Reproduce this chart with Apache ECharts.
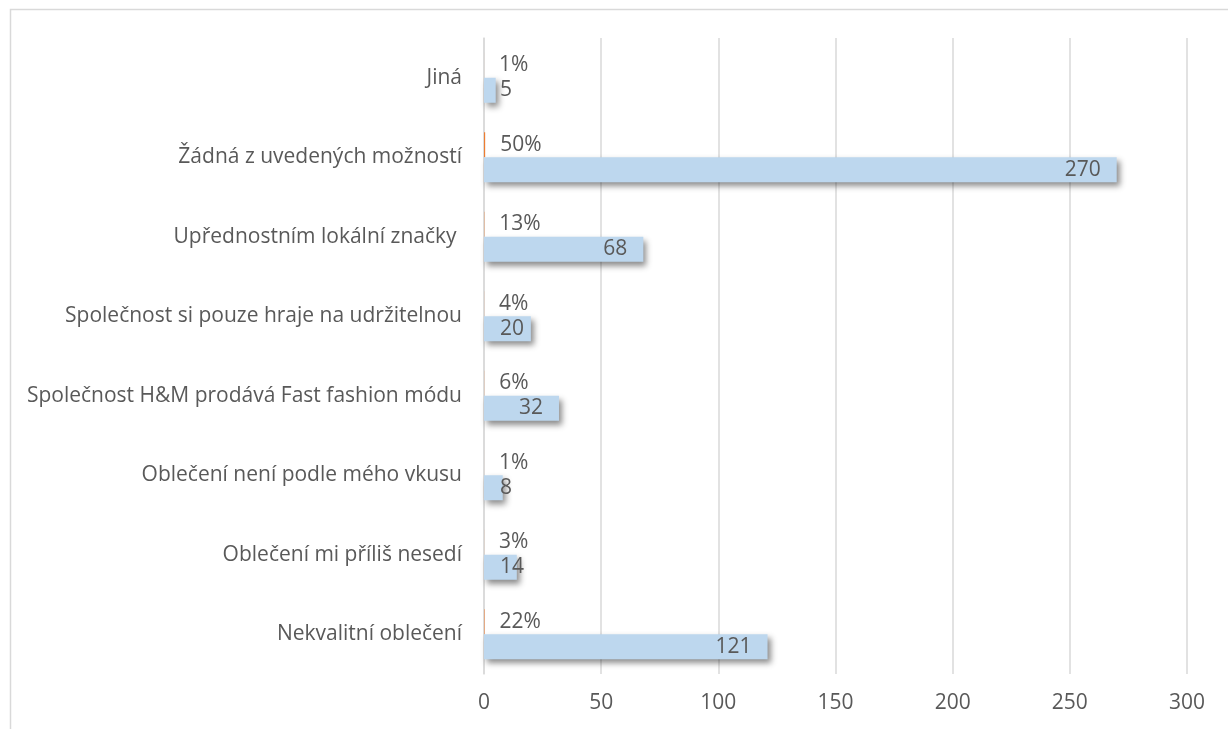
<!DOCTYPE html>
<html>
<head>
<meta charset="utf-8">
<script src="https://cdn.jsdelivr.net/npm/echarts@6/dist/echarts.min.js"></script>
<style>
  html, body { margin: 0; padding: 0; background: #fff; }
  #chart { width: 1228px; height: 729px; }
</style>
</head>
<body>
<div id="chart"></div>
<script>
// kategorie odspodu nahoru
const categories = [
  'Nekvalitní oblečení',
  'Oblečení mi příliš nesedí',
  'Oblečení není podle mého vkusu',
  'Společnost H&M prodává Fast fashion módu',
  'Společnost si pouze hraje na udržitelnou',
  'Upřednostním lokální značky ',
  'Žádná z uvedených možností',
  'Jiná'
]
// počet odpovědí
const counts = [121, 14, 8, 32, 20, 68, 270, 5]
// podíl odpovědí
const shares = [0.22, 0.03, 0.01, 0.06, 0.04, 0.13, 0.5, 0.01]
const xTicks = { min: 0, max: 300, interval: 50 }

const font = 'Open Sans'
const fontSize = 21
const textColor = '#595959'
const gridColor = '#d9d9d9'

const chart = echarts.init(document.getElementById('chart'))

const option = {
  animation: false,
  textStyle: { fontFamily: font },
  graphic: [
    {
      type: 'rect',
      shape: { x: 10.5, y: 9.5, width: 1400, height: 900 },
      style: { fill: 'none', stroke: gridColor, lineWidth: 1.5 },
      silent: true
    }
  ],
  grid: {
    top: 38,
    bottom: 55,
    left: 484,
    right: 41
  },
  xAxis: {
    type: 'value',
    min: xTicks.min,
    max: xTicks.max,
    interval: xTicks.interval,
    axisLine: { show: false },
    axisTick: { show: false },
    axisLabel: {
      color: textColor,
      fontSize: fontSize,
      fontFamily: font,
      margin: 19
    },
    splitLine: { lineStyle: { color: gridColor, width: 1.5 } }
  },
  yAxis: {
    type: 'category',
    data: categories,
    axisLine: { show: true, lineStyle: { color: gridColor, width: 1.5 } },
    axisTick: { show: false },
    axisLabel: {
      color: textColor,
      fontSize: fontSize,
      fontFamily: font,
      margin: 22
    }
  },
  series: [
    {
      // procenta – horní (téměř neviditelný) sloupec
      name: 'Podíl',
      type: 'bar',
      barWidth: 25,
      barGap: '0%',
      barCategoryGap: '37%',
      itemStyle: { color: '#ed7d31' },
      label: {
        show: true,
        position: 'right',
        distance: 15,
        color: textColor,
        fontSize: fontSize,
        fontFamily: font,
        formatter: p => Math.round(p.value * 100) + '%'
      },
      data: shares
    },
    {
      // počet
      name: 'Počet',
      type: 'bar',
      barWidth: 25,
      barGap: '0%',
      barCategoryGap: '37%',
      itemStyle: {
        color: '#bdd7ee',
        shadowColor: 'rgba(0,0,0,0.45)',
        shadowBlur: 6,
        shadowOffsetX: 3,
        shadowOffsetY: 4
      },
      label: {
        show: true,
        color: textColor,
        fontSize: fontSize,
        fontFamily: font,
        distance: 16
      },
      // malé sloupce mají popisek od začátku
      data: counts.map(v => ({
        value: v,
        label: { position: v <= 20 ? 'insideLeft' : 'insideRight' }
      }))
    }
  ]
}
chart.setOption(option)
</script>
</body>
</html>
